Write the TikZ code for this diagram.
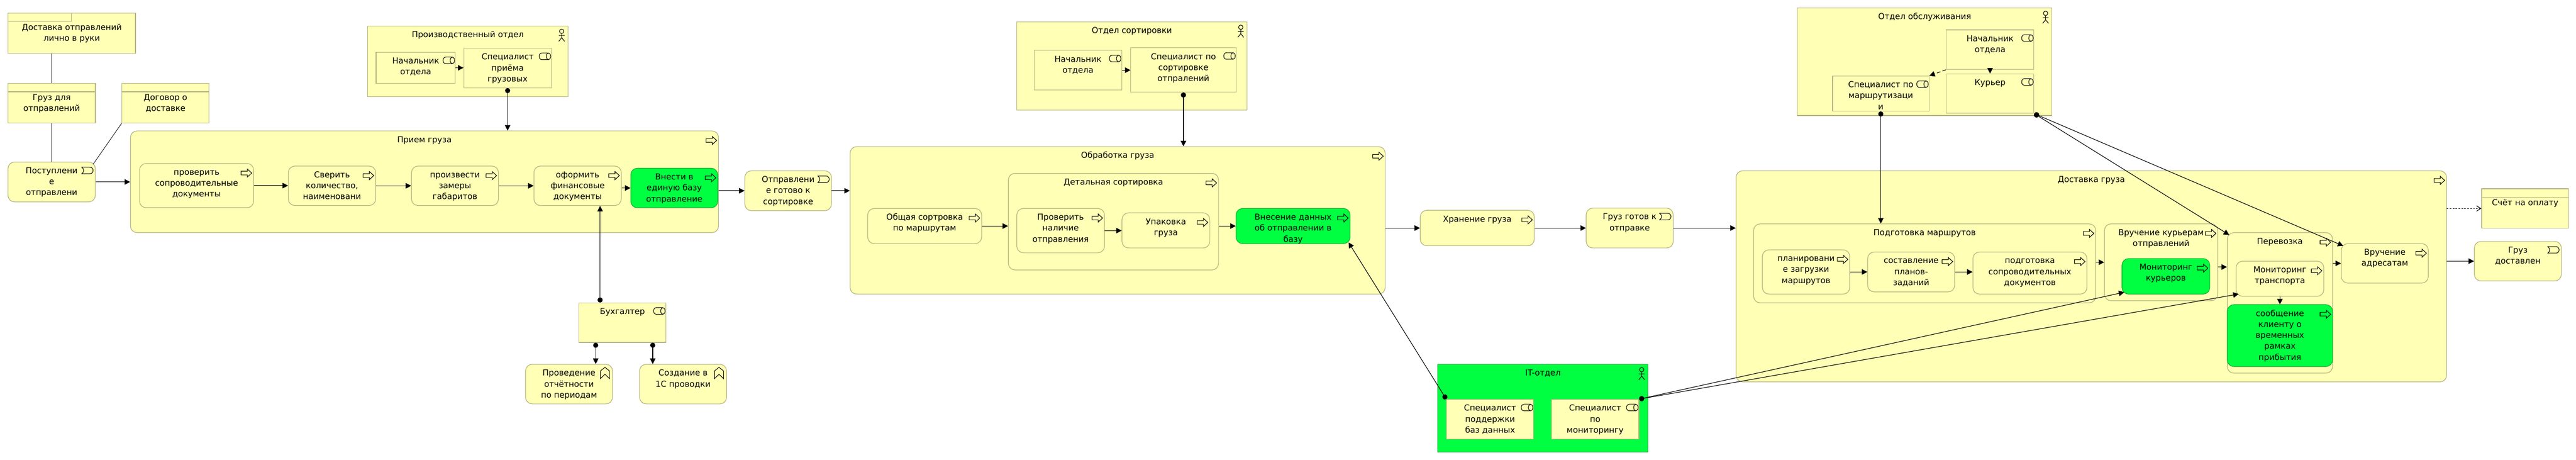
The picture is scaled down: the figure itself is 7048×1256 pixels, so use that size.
\documentclass[tikz,border=0pt]{standalone}
\usepackage{fontspec}
\setmainfont{DejaVu Sans}
\usetikzlibrary{arrows.meta}

\definecolor{cream}{HTML}{FFFFB5}
\definecolor{creamedge}{HTML}{B2B27E}
\definecolor{lime}{HTML}{00FF40}
\definecolor{limeedge}{HTML}{00B22D}

\tikzset{
  plainbox/.style={draw=creamedge, fill=cream, line width=1.7pt, inner sep=0pt},
  roundbox/.style={plainbox, rounded corners=18pt},
  limebox/.style={draw=limeedge, fill=lime},
  lbl/.style={anchor=north, inner sep=0pt, align=center, font=\fontsize{22.5}{30}\selectfont},
  icon/.style={draw=black, line width=1.5pt},
  flow/.style={line width=1.6pt, -{Triangle[length=15pt,width=15pt]}},
  assign/.style={line width=1.6pt, {Circle[length=14pt]}-{Triangle[length=15pt,width=15pt]}},
  link/.style={line width=1.2pt},
  reach/.style={line width=1.6pt, dash pattern=on 10pt off 6pt, -{Triangle[length=15pt,width=15pt]}},
  dotflow/.style={line width=1.6pt, dash pattern=on 4pt off 4pt, -{Straight Barb[length=12pt,width=15pt]}},
  noicon/.pic={},
  procicon/.pic={\draw[icon] (-35,22) -- (-18,22) -- (-18,16) -- (-6,27) -- (-18,38) -- (-18,32) -- (-35,32) -- cycle;},
  eventicon/.pic={\draw[icon] (-38,15) -- (-16,15) .. controls (-4,15) and (-4,33) .. (-16,33) -- (-38,33) .. controls (-31,28) and (-31,20) .. (-38,15) -- cycle;},
  roleicon/.pic={\draw[icon] (-9,14) -- (-27,14) .. controls (-37,14) and (-37,32) .. (-27,32) -- (-9,32);
    \draw[icon] (-9,23) ellipse [x radius=6, y radius=9];},
  actoricon/.pic={\draw[icon] (-18,15.5) circle (6pt);
    \draw[icon] (-18,22) -- (-18,33) (-26,27) -- (-10,27) (-26,43) -- (-18,33) -- (-10,43);},
  funcicon/.pic={\draw[icon] (-34,19) -- (-21.5,9) -- (-9,19) -- (-9,40) -- (-21.5,28) -- (-34,40) -- cycle;},
}

\newcommand{\archbox}[9][11]{%
  \node[#2, anchor=north west, minimum width=#5-#3, minimum height=#6-#4] (#7) at (#3,#4) {};
  \begin{scope}
    \clip (#7.north west) rectangle (#7.south east);
    \node[lbl] (#7-txt) at ([yshift=-#1pt]#7.north) {\strut #9};
  \end{scope}
  \pic at (#7.north east) {#8};
}
\newcommand{\tabline}[1]{\draw[draw=creamedge, line width=1.7pt] ([yshift=-24pt]#1.north west) -- ([yshift=-24pt]#1.north east);}

\begin{document}
\begin{tikzpicture}[x=1pt,y=-1pt]
  \useasboundingbox (0,0) rectangle (7048,1256);

  \archbox[26]{plainbox}{21}{35}{370}{145}{dlv}{noicon}{Доставка отправлений\\лично в руки}
  \draw[draw=creamedge, line width=1.7pt] ([yshift=-24pt]dlv.north west) -- ++(174,0) -- ++(0,-24);
  \archbox[26]{plainbox}{21}{227}{260}{335}{cargo}{noicon}{Груз для\\отправлений}
  \tabline{cargo}
  \archbox[26]{plainbox}{333}{227}{571}{335}{contract}{noicon}{Договор о\\доставке}
  \tabline{contract}
  \archbox{roundbox}{21}{442}{260}{551}{arrival}{eventicon}{Поступлени\\е\\отправлени}

  \archbox{roundbox}{356}{357}{1965}{635}{rcv}{procicon}{Прием груза}
  \archbox{roundbox}{381}{446}{693}{567}{chk}{procicon}{проверить\\сопроводительные\\документы}
  \archbox{roundbox}{788}{453}{1027}{561}{cnt}{procicon}{Сверить\\количество,\\наименовани}
  \archbox{roundbox}{1125}{453}{1363}{561}{meas}{procicon}{произвести\\замеры\\габаритов}
  \archbox{roundbox}{1460}{453}{1699}{561}{fin}{procicon}{оформить\\финансовые\\документы}
  \archbox{roundbox,limebox}{1725}{459}{1963}{567}{base}{procicon}{Внести в\\единую базу\\отправление}
  \archbox{roundbox}{2037}{466}{2274}{575}{sent}{eventicon}{Отправлени\\е готово к\\сортировке}

  \archbox{plainbox}{1005}{70}{1553}{263}{prodgrp}{actoricon}{Производственный отдел}
  \archbox{plainbox}{1028}{142}{1245}{227}{prodhead}{roleicon}{Начальник\\отдела}
  \archbox{plainbox}{1268}{131}{1508}{239}{prodspec}{roleicon}{Специалист\\приёма\\грузовых}

  \archbox{plainbox}{1583}{827}{1821}{935}{acc}{roleicon}{Бухгалтер}
  \archbox{roundbox}{1437}{995}{1675}{1103}{rep}{funcicon}{Проведение\\отчётности\\по периодам}
  \archbox{roundbox}{1749}{995}{1987}{1103}{post}{funcicon}{Создание в\\1С проводки}

  \archbox{plainbox}{2781}{59}{3411}{300}{sortgrp}{actoricon}{Отдел сортировки}
  \archbox{plainbox}{2829}{137}{3068}{245}{sorthead}{roleicon}{Начальник\\отдела}
  \archbox{plainbox}{3093}{130}{3381}{251}{sortspec}{roleicon}{Специалист по\\сортировке\\отпралений}

  \archbox{roundbox}{2325}{400}{3789}{803}{work}{procicon}{Обработка груза}
  \archbox{roundbox}{2373}{569}{2685}{665}{gensort}{procicon}{Общая сортровка\\по маршрутам}
  \archbox{roundbox}{2758}{473}{3333}{737}{detail}{procicon}{Детальная сортировка}
  \archbox{roundbox}{2781}{569}{3021}{690}{verify}{procicon}{Проверить\\наличие\\отправления}
  \archbox{roundbox}{3069}{581}{3309}{677}{pack}{procicon}{Упаковка\\груза}
  \archbox{roundbox,limebox}{3381}{569}{3693}{665}{record}{procicon}{Внесение данных\\об отправлении в\\базу}

  \archbox{roundbox}{3885}{574}{4197}{671}{store}{procicon}{Хранение груза}
  \archbox{roundbox}{4339}{568}{4577}{677}{ready}{eventicon}{Груз готов к\\отправке}

  \archbox{plainbox,limebox}{3933}{995}{4508}{1235}{itgrp}{actoricon}{IT-отдел}
  \archbox{plainbox}{3957}{1091}{4195}{1199}{itdb}{roleicon}{Специалист\\поддержки\\баз данных}
  \archbox{plainbox}{4244}{1091}{4483}{1199}{itmon}{roleicon}{Специалист\\по\\мониторингу}

  \archbox{plainbox}{4917}{21}{5613}{315}{srvgrp}{actoricon}{Отдел обслуживания}
  \archbox{plainbox}{5324}{81}{5564}{189}{srvhead}{roleicon}{Начальник\\отдела}
  \archbox{plainbox}{5324}{201}{5564}{309}{srvcour}{roleicon}{Курьер}
  \archbox{plainbox}{5013}{207}{5277}{303}{srvroute}{roleicon}{Специалист по\\маршрутизаци\\и}

  \archbox{roundbox}{4749}{466}{6693}{1043}{dlvr}{procicon}{Доставка груза}
  \archbox{roundbox}{4797}{611}{5733}{827}{route}{procicon}{Подготовка маршрутов}
  \archbox{roundbox}{4821}{682}{5060}{803}{plan}{procicon}{планировани\\е загрузки\\маршрутов}
  \archbox{roundbox}{5109}{688}{5347}{797}{compose}{procicon}{составление\\планов-\\заданий}
  \archbox{roundbox}{5397}{688}{5709}{803}{prep}{procicon}{подготовка\\сопроводительных\\документов}
  \archbox{roundbox}{5757}{611}{6067}{821}{hand}{procicon}{Вручение курьерам\\отправлений}
  \archbox{roundbox,limebox}{5805}{706}{6045}{803}{moncour}{procicon}{Мониторинг\\курьеров}
  \archbox{roundbox}{6093}{635}{6381}{1019}{trans}{procicon}{Перевозка}
  \archbox{roundbox}{6117}{713}{6357}{809}{montrans}{procicon}{Мониторинг\\транспорта}
  \archbox{roundbox,limebox}{6093}{832}{6381}{1001}{notify}{procicon}{сообщение\\клиенту о\\временных\\рамках\\прибытия}
  \archbox{roundbox}{6405}{665}{6643}{773}{addr}{procicon}{Вручение\\адресатам}

  \archbox[26]{plainbox}{6789}{515}{7027}{623}{invoice}{noicon}{Счёт на оплату}
  \tabline{invoice}
  \archbox{roundbox}{6769}{659}{7007}{767}{done}{eventicon}{Груз\\доставлен}

  \draw[link] (cargo.north) -- (cargo.north |- dlv.south);
  \draw[link] (cargo.south) -- (cargo.south |- arrival.north);
  \draw[link] (contract.south west) -- ([shift={(-7pt,-7pt)}]arrival.north east);

  \draw[flow] (arrival.east) -- (arrival.east -| rcv.west);
  \draw[flow] (chk.east) -- (chk.east -| cnt.west);
  \draw[flow] (cnt.east) -- (meas.west);
  \draw[flow] (meas.east) -- (fin.west);
  \draw[flow] (fin.east |- base.west) -- (base.west);
  \draw[flow] (rcv.east |- sent.west) -- (sent.west);
  \draw[flow] (sent.east) -- (sent.east -| work.west);
  \draw[flow] (prodhead.east) -- (prodhead.east -| prodspec.west);
  \draw[assign] (prodspec.south) -- (prodspec.south |- rcv.north);
  \draw[assign] ([xshift=-61pt]acc.north) -- ([xshift=-61pt]acc.north |- fin.south);
  \draw[assign] ([xshift=-73pt]acc.south) -- ([xshift=-73pt]acc.south |- rep.north);
  \draw[assign] ([xshift=83pt]acc.south) -- ([xshift=83pt]acc.south |- post.north);

  \draw[flow] (sorthead.east) -- (sorthead.east -| sortspec.west);
  \draw[assign] (sortspec.south) -- (sortspec.south |- work.north);
  \draw[flow] (gensort.east) -- (gensort.east -| detail.west);
  \draw[flow] (verify.east) -- (verify.east -| pack.west);
  \draw[flow] (detail.east |- record.west) -- (record.west);
  \draw[flow] (work.east |- store.west) -- (store.west);
  \draw[flow] (store.east) -- (store.east -| ready.west);
  \draw[flow] (ready.east) -- (ready.east -| dlvr.west);
  \draw[assign] (itdb.north west) -- ([shift={(-5pt,4pt)}]record.south east);

  \draw[flow] (srvhead.south) -- (srvcour.north);
  \draw[reach] (srvhead.south west) -- (srvroute.north east);
  \draw[assign] (srvroute.south) -- (srvroute.south |- route.north);
  \draw[assign] (srvcour.south east) -- ([shift={(6pt,-7pt)}]trans.north west);
  \draw[assign] (srvcour.south east) -- ([shift={(6pt,-7pt)}]addr.north west);
  \draw[flow] (plan.east) -- (compose.west);
  \draw[flow] (compose.east) -- (compose.east -| prep.west);
  \draw[flow] (route.east |- hand.west) -- (hand.west);
  \draw[flow] ([yshift=-13pt]hand.east) -- ([yshift=-13pt]hand.east -| trans.west);
  \draw[flow] (trans.east |- addr.west) -- (addr.west);
  \draw[flow] (montrans.south) -- (notify.north);
  \draw[assign] (itmon.north east) -- ([shift={(7pt,6pt)}]moncour.south west);
  \draw[assign] (itmon.north east) -- ([shift={(8pt,7pt)}]montrans.south west);
  \draw[flow] (dlvr.east |- done.west) -- (done.west);
  \draw[dotflow] (dlvr.east |- invoice.west) -- (invoice.west);
\end{tikzpicture}
\end{document}
